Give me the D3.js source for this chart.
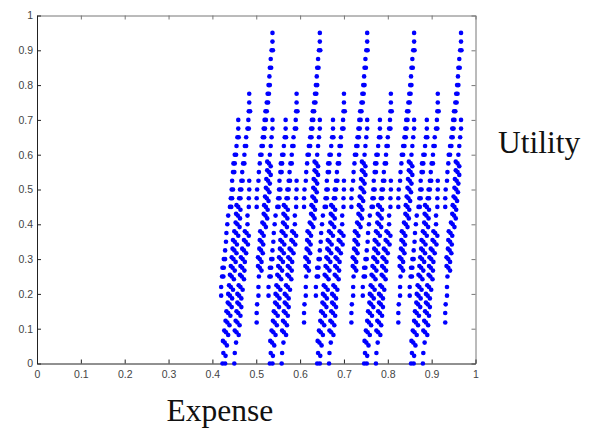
<!DOCTYPE html>
<html>
<head>
<meta charset="utf-8">
<script src="https://cdn.jsdelivr.net/npm/d3@7"></script>
<style>
  html, body { margin: 0; background: #fff; }
  svg { display: block; }
  .tick text { font-family: "Liberation Sans", Arial, sans-serif; font-size: 10.5px; fill: #444; }
  .name { font-family: "Liberation Serif", "Times New Roman", serif; font-size: 31.5px; fill: #111; }
</style>
</head>
<body>
<div id="chart"></div>
<script>
const xTicks = [0, 0.1, 0.2, 0.3, 0.4, 0.5, 0.6, 0.7, 0.8, 0.9, 1];
const yTicks = [0, 0.1, 0.2, 0.3, 0.4, 0.5, 0.6, 0.7, 0.8, 0.9, 1];

// utility levels the points sit on, top to bottom
const levels = [0.95, 0.925, 0.9, 0.875, 0.85, 0.825, 0.8, 0.775, 0.75, 0.725, 0.7, 0.675, 0.65, 0.625, 0.6, 0.575, 0.55, 0.525, 0.5, 0.475, 0.45, 0.425, 0.4, 0.375, 0.35, 0.325, 0.3, 0.275, 0.25, 0.22, 0.195, 0.17, 0.145, 0.118, 0.09, 0.06, 0.03, 0];
// slightly lower / higher points that make the diagonal smears in the dense part
const barLevels = [0.942, 0.917, 0.892, 0.867, 0.842, 0.817, 0.792, 0.767, 0.742, 0.717, 0.692, 0.667, 0.642, 0.617, 0.592, 0.567, 0.542, 0.517, 0.492, 0.467, 0.442, 0.417, 0.392, 0.367, 0.342, 0.317, 0.292, 0.267, 0.242, 0.212, 0.187, 0.162, 0.137, 0.11, 0.082, 0.052, 0.022, 0];
const upLevels = [0.955, 0.93, 0.905, 0.88, 0.855, 0.83, 0.805, 0.78, 0.755, 0.73, 0.705, 0.68, 0.655, 0.63, 0.605, 0.58, 0.555, 0.53, 0.505, 0.48, 0.455, 0.43, 0.405, 0.38, 0.355, 0.33, 0.305, 0.28, 0.255, 0.225, 0.2, 0.175, 0.15, 0.123, 0.095, 0.065, 0.035, 0.005];

const tall = [
  [.537,.537,.535,.533,.531,.530,.528,.526,.524,.521,.519,.517,.515,.512,.509,.508,.506,.505,.502,.501,.501],
  [.645,.645,.643,.641,.639,.638,.636,.634,.632,.629,.627,.625,.623,.620,.617,.616,.614,.613,.610,.609,.609],
  [.753,.753,.751,.749,.747,.746,.744,.742,.740,.737,.735,.733,.731,.728,.725,.724,.722,.721,.718,.717,.717],
  [.860,.860,.858,.856,.854,.853,.851,.849,.847,.844,.842,.840,.838,.835,.832,.831,.829,.828,.825,.824,.824],
  [.967,.967,.965,.963,.961,.960,.958,.956,.954,.951,.949,.947,.945,.942,.939,.938,.936,.935,.932,.931,.931]
];
const tallWide = [
  [null,null,.538,null,.534,null,.531,.529,.527,.524,.522,.520,.518,.515,.512],
  [null,null,.646,null,.642,null,.639,.637,.635,.632,.630,.628,.626,.623,.620],
  [null,null,.754,null,.750,null,.747,.745,.743,.740,.738,.736,.734,.731,.728],
  [null,null,.861,null,.857,null,.854,.852,.850,.847,.845,.843,.841,.838,.835],
  [null,null,.968,null,.964,null,.961,.959,.957,.954,.952,.950,.948,.945,.942]
];
// these start at level 10 (0.7)
const midRight = [
  [.537,.537,.535,.533,.531,.529,.529,.527,.526,.524,.522,.521,.518,.513,.512,.511,.508,.508,.506,.505,.505,.502,.501,.501],
  [.645,.645,.643,.641,.639,.637,.637,.635,.634,.632,.630,.629,.626,.621,.620,.619,.616,.616,.614,.613,.613,.610,.609,.609],
  [.753,.753,.751,.749,.747,.745,.745,.743,.742,.740,.738,.737,.734,.729,.728,.727,.724,.724,.722,.721,.721,.718,.717,.717],
  [.860,.860,.858,.856,.854,.852,.852,.850,.849,.847,.845,.844,.841,.836,.835,.834,.831,.831,.829,.828,.828,.825,.824,.824],
  [.967,.967,.965,.963,.961,.959,.959,.957,.956,.954,.952,.951,.948,.943,.942,.941,.938,.938,.936,.935,.935,.932,.931,.931]
];
// start at level 15 (0.575)
const midRightBar = [
  [.533,.533,.531,.530,.528,.526,.525,.522,.517,.516,.515,.512,.512],
  [.641,.641,.639,.638,.636,.634,.633,.630,.625,.624,.623,.620,.620],
  [.749,.749,.747,.746,.744,.742,.741,.738,.733,.732,.731,.728,.728],
  [.856,.856,.854,.853,.851,.849,.848,.845,.840,.839,.838,.835,.835],
  [.963,.963,.961,.960,.958,.956,.955,.952,.947,.946,.945,.942,.942]
];
const midRightBarUp = [
  [.525,.525,.523,.522,.520,.518,.517,.514,.509,.508,.507,.504,.504],
  [.633,.633,.631,.630,.628,.626,.625,.622,.617,.616,.615,.612,.612],
  [.741,.741,.739,.738,.736,.734,.733,.730,.725,.724,.723,.720,.720],
  [.848,.848,.846,.845,.843,.841,.840,.837,.832,.831,.830,.827,.827],
  [.955,.955,.953,.952,.950,.948,.947,.944,.939,.938,.937,.934,.934]
];
// start at level 10 (0.7)
const midLeft = [
  [.459,.459,.457,.455,.451,.448,.447,.445,.444,.442,.440,.436,.434,.432,.431,.429,.426,.423,.422,.420,.420],
  [.567,.567,.565,.563,.559,.556,.555,.553,.552,.550,.548,.544,.542,.540,.539,.537,.534,.531,.530,.528,.528],
  [.675,.675,.673,.671,.667,.664,.663,.661,.660,.658,.656,.652,.650,.648,.647,.645,.642,.639,.638,.636,.636],
  [.782,.782,.780,.778,.774,.771,.770,.768,.767,.765,.763,.759,.757,.755,.754,.752,.749,.746,.745,.743,.743],
  [.889,.889,.887,.885,.881,.878,.877,.875,.874,.872,.870,.866,.864,.862,.861,.859,.856,.853,.852,.850,.850]
];
const midLeftWide = [
  [null,null,.460,null,.454,.451,.450,null,.447,.445,.443,null,null,null,null,null,.429,.426,.425],
  [null,null,.568,null,.562,.559,.558,null,.555,.553,.551,null,null,null,null,null,.537,.534,.533],
  [null,null,.676,null,.670,.667,.666,null,.663,.661,.659,null,null,null,null,null,.645,.642,.641],
  [null,null,.783,null,.777,.774,.773,null,.770,.768,.766,null,null,null,null,null,.752,.749,.748],
  [null,null,.890,null,.884,.881,.880,null,.877,.875,.873,null,null,null,null,null,.859,.856,.855]
];
// these start at level 7 (0.775) and run down to 0
const longRun = [
  [.484,.484,.483,.482,.480,.477,.474,.473,.470,.468,.466,.463,.461,.459,.458,.457,.454,.451,.450,.448,.446,.444,.442,.440,.439,.436,.434,.431,.428,.425,.423],
  [.592,.592,.591,.590,.588,.585,.582,.581,.578,.576,.574,.571,.569,.567,.566,.565,.562,.559,.558,.556,.554,.552,.550,.548,.547,.544,.542,.539,.536,.533,.531],
  [.700,.700,.699,.698,.696,.693,.690,.689,.686,.684,.682,.679,.677,.675,.674,.673,.670,.667,.666,.664,.662,.660,.658,.656,.655,.652,.650,.647,.644,.641,.639],
  [.807,.807,.806,.805,.803,.800,.797,.796,.793,.791,.789,.786,.784,.782,.781,.780,.777,.774,.773,.771,.769,.767,.765,.763,.762,.759,.757,.754,.751,.748,.746],
  [.914,.914,.913,.912,.910,.907,.904,.903,.900,.898,.896,.893,.891,.889,.888,.887,.884,.881,.880,.878,.876,.874,.872,.870,.869,.866,.864,.861,.858,.855,.853]
];
const longRunWide = [
  [null,null,.486,null,.483,null,.477,null,.473,null,.469,.466,.464],
  [null,null,.594,null,.591,null,.585,null,.581,null,.577,.574,.572],
  [null,null,.702,null,.699,null,.693,null,.689,null,.685,.682,.680],
  [null,null,.809,null,.806,null,.800,null,.796,null,.792,.789,.787],
  [null,null,.916,null,.913,null,.907,null,.903,null,.899,.896,.894]
];
// start at level 20 (0.45)
const longRunBar = [
  [.464,.463,.462,.459,.456,.455,.453,.451,.449,.447,.445,.444,.441,.439,.436,.433,.430],
  [.572,.571,.570,.567,.564,.563,.561,.559,.557,.555,.553,.552,.549,.547,.544,.541,.538],
  [.680,.679,.678,.675,.672,.671,.669,.667,.665,.663,.661,.660,.657,.655,.652,.649,.646],
  [.787,.786,.785,.782,.779,.778,.776,.774,.772,.770,.768,.767,.764,.762,.759,.756,.753],
  [.894,.893,.892,.889,.886,.885,.883,.881,.879,.877,.875,.874,.871,.869,.866,.863,.860]
];
const longRunBarUp = [
  [.455,.454,.453,.450,.447,.446,.444,.442,.440,.438,.436,.435,.432,.430,.427,.424],
  [.563,.562,.561,.558,.555,.554,.552,.550,.548,.546,.544,.543,.540,.538,.535,.532],
  [.671,.670,.669,.666,.663,.662,.660,.658,.656,.654,.652,.651,.648,.646,.643,.640],
  [.778,.777,.776,.773,.770,.769,.767,.765,.763,.761,.759,.758,.755,.753,.750,.747],
  [.885,.884,.883,.880,.877,.876,.874,.872,.870,.868,.866,.865,.862,.860,.857,.854]
];
// these start at level 17 (0.525) and run down to 0
const shortRun = [
  [.484,.484,.483,.483,.480,.480,.478,.476,.472,.469,.468,.467,.464,.461,.461,.459,.457,.455,.454,.451,.450],
  [.592,.592,.591,.591,.588,.588,.586,.584,.580,.577,.576,.575,.572,.569,.569,.567,.565,.563,.562,.559,.558],
  [.700,.700,.699,.699,.696,.696,.694,.692,.688,.685,.684,.683,.680,.677,.677,.675,.673,.671,.670,.667,.666],
  [.807,.807,.806,.806,.803,.803,.801,.799,.795,.792,.791,.790,.787,.784,.784,.782,.780,.778,.777,.774,.773],
  [.914,.914,.913,.913,.910,.910,.908,.906,.902,.899,.898,.897,.894,.891,.891,.889,.887,.885,.884,.881,.880]
];
// start at level 23 (0.375)
const shortRunBar = [
  [.483,.481,.477,.474,.473,.472,.469,.466,.466,.464,.462,.460],
  [.591,.589,.585,.582,.581,.580,.577,.574,.574,.572,.570,.568],
  [.699,.697,.693,.690,.689,.688,.685,.682,.682,.680,.678,.676],
  [.806,.804,.800,.797,.796,.795,.792,.789,.789,.787,.785,.783],
  [.913,.911,.907,.904,.903,.902,.899,.896,.896,.894,.892,.890]
];
const shortRunBarUp = [
  [.474,.472,.468,.465,.464,.463,.460,.457,.457,.455,.453,.451],
  [.582,.580,.576,.573,.572,.571,.568,.565,.565,.563,.561,.559],
  [.690,.688,.684,.681,.680,.679,.676,.673,.673,.671,.669,.667],
  [.797,.795,.791,.788,.787,.786,.783,.780,.780,.778,.776,.774],
  [.904,.902,.898,.895,.894,.893,.890,.887,.887,.885,.883,.881]
];
// extra points on the zero line, one per cluster
const zeroLine = [[.429], [.537], [.645], [.752], [.859]];

const strandGroups = [
  { strands: tall, start: 0, ys: levels },
  { strands: tallWide, start: 0, ys: levels },
  { strands: midRight, start: 10, ys: levels },
  { strands: midRightBar, start: 15, ys: barLevels },
  { strands: midRightBarUp, start: 15, ys: upLevels },
  { strands: midLeft, start: 10, ys: levels },
  { strands: midLeftWide, start: 10, ys: levels },
  { strands: longRun, start: 7, ys: levels },
  { strands: longRunWide, start: 7, ys: levels },
  { strands: longRunBar, start: 20, ys: barLevels },
  { strands: longRunBarUp, start: 20, ys: upLevels },
  { strands: shortRun, start: 17, ys: levels },
  { strands: shortRunBar, start: 23, ys: barLevels },
  { strands: shortRunBarUp, start: 23, ys: upLevels },
  { strands: zeroLine, start: 37, ys: levels }
];

const points = [];
strandGroups.forEach((g) => {
  g.strands.forEach((strand) => {
    strand.forEach((expense, i) => {
      if (expense !== null) points.push({ x: expense, y: g.ys[g.start + i] });
    });
  });
});

const svg = d3.select('#chart').append('svg').attr('width', 590).attr('height', 428);

const x = d3.scaleLinear().domain([0, 1]).range([37, 475.5]);
const y = d3.scaleLinear().domain([0, 1]).range([363.5, 15.5]);

// box ticks point inward, matlab style
svg.append('g')
  .attr('transform', 'translate(0,15.5)')
  .call(d3.axisTop(x).tickValues(xTicks).tickSizeInner(-4).tickSizeOuter(0).tickFormat(''))
  .call((g) => g.selectAll('path,line').attr('stroke', '#777'));

svg.append('g')
  .attr('transform', 'translate(475.5,0)')
  .call(d3.axisRight(y).tickValues(yTicks).tickSizeInner(-4).tickSizeOuter(0).tickFormat(''))
  .call((g) => g.selectAll('path,line').attr('stroke', '#777'));

svg.append('g')
  .attr('transform', 'translate(0,363.5)')
  .call(d3.axisBottom(x).tickValues(xTicks).tickSizeInner(-4).tickSizeOuter(0).tickPadding(7).tickFormat(d3.format('~g')))
  .call((g) => g.selectAll('path,line').attr('stroke', '#222'));

svg.append('g')
  .attr('transform', 'translate(37,0)')
  .call(d3.axisLeft(y).tickValues(yTicks).tickSizeInner(-4).tickSizeOuter(0).tickPadding(4).tickFormat(d3.format('~g')))
  .call((g) => g.selectAll('path,line').attr('stroke', '#222'));

svg.append('g')
  .selectAll('circle')
  .data(points)
  .enter()
  .append('circle')
  .attr('cx', (d) => x(d.x))
  .attr('cy', (d) => y(d.y))
  .attr('r', 2.3)
  .attr('fill', '#0000ff');

svg.append('text').attr('class', 'name').attr('x', 498).attr('y', 153).text('Utility');
svg.append('text').attr('class', 'name').attr('x', 166.5).attr('y', 421).text('Expense');
</script>
</body>
</html>
